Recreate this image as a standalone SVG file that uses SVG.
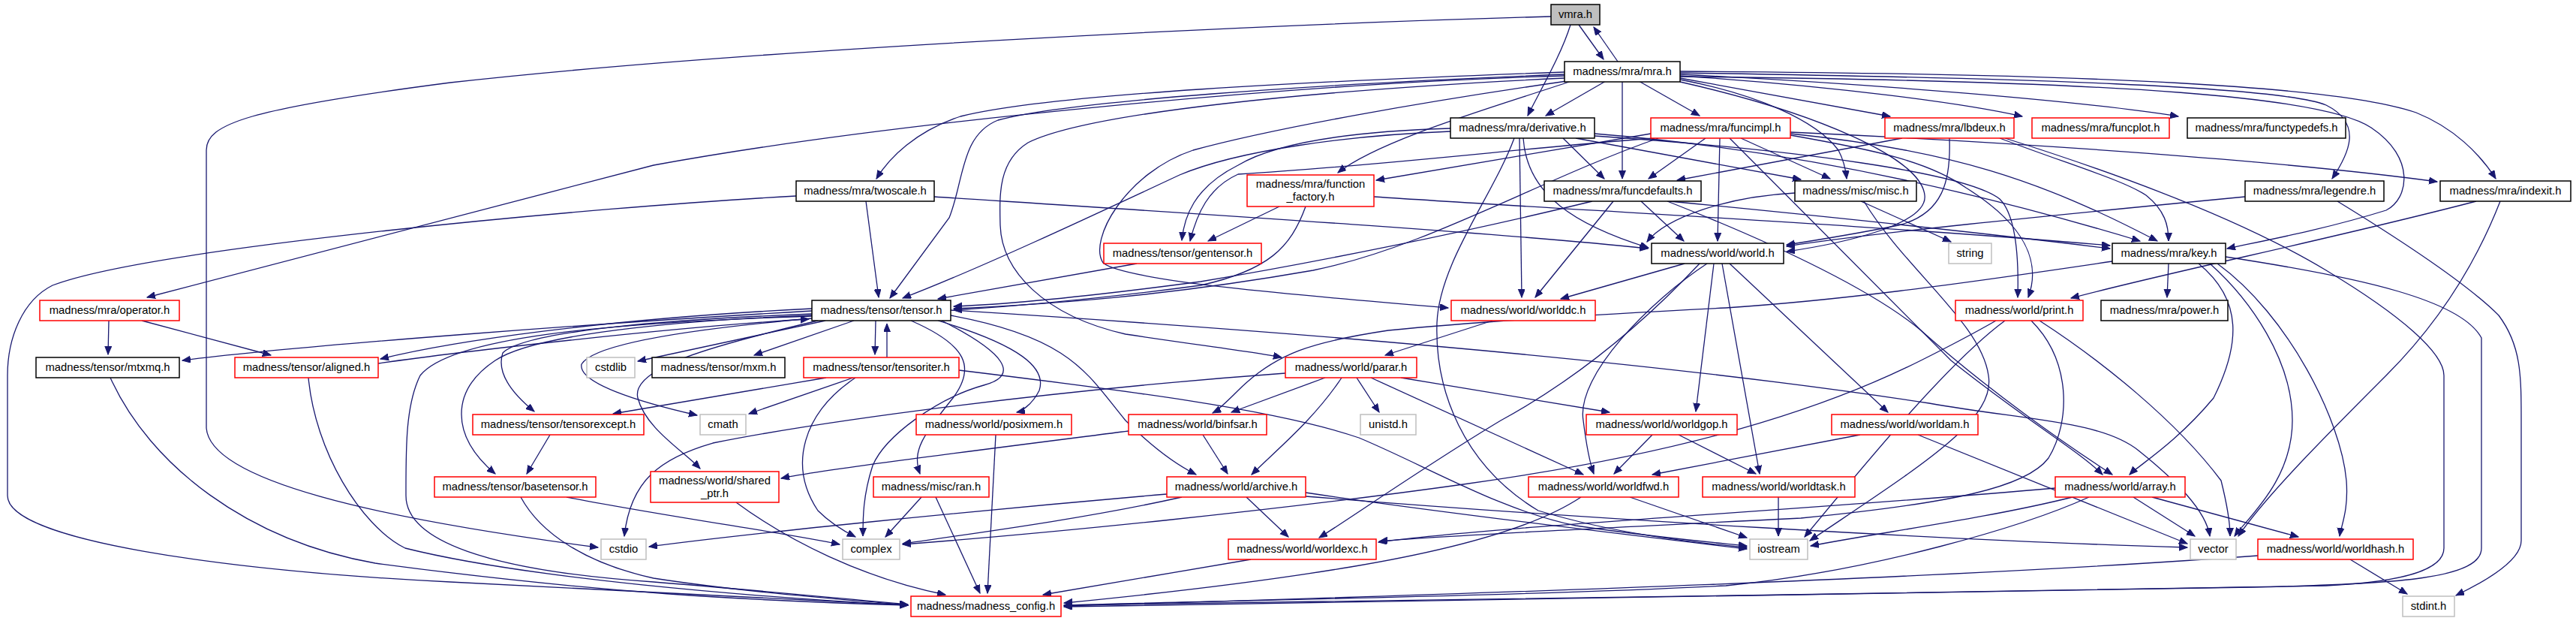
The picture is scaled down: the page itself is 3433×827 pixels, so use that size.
<svg xmlns="http://www.w3.org/2000/svg" width="3433" height="827" viewBox="0 0 3433 827">
<style>
.bg{fill:#fff}
rect{fill:#fff;stroke-width:1.5}
.n{stroke:#000}
.r{stroke:#ff0000}
.g{stroke:#bfbfbf}
.s{fill:#bfbfbf;stroke:#000}
text{font-family:"Liberation Sans",Arial,sans-serif;font-size:14.8px;fill:#000;text-anchor:middle}
#edges path{fill:none;stroke:#191970;stroke-width:1.3;marker-end:url(#ah)}
</style>
<defs>
<marker id="ah" markerUnits="userSpaceOnUse" markerWidth="12" markerHeight="10" refX="11" refY="4.5" orient="auto"><path d="M0,0 L11,4.5 L0,9 z" fill="#191970" stroke="#191970" stroke-width="1"/></marker>
</defs>
<rect class="bg" x="0" y="0" width="3433" height="827" style="stroke:none"/>
<g id="edges">
<path d="M2104,33 L2137,79"/>
<path d="M2156,82 L2124,36"/>
<path d="M2093,33 C2080,75 2050,125 2036,154"/>
<path d="M2067,22 C1700,32 1000,65 600,110 C330,145 275,165 275,200 L275,570 C280,640 500,690 797,729"/>
<path d="M2140,108 L2060,154"/>
<path d="M2162,108 L2162,238"/>
<path d="M2184,108 L2265,154"/>
<path d="M2239,106 C2340,125 2420,160 2450,200 C2458,215 2460,228 2461,238"/>
<path d="M2239,104 L2519,155"/>
<path d="M2239,101 C2450,115 2620,138 2695,155"/>
<path d="M2239,99 C2500,112 2780,135 2903,155"/>
<path d="M2239,97 C2700,104 3040,115 3100,140 C3150,165 3130,205 3108,238"/>
<path d="M2239,95 C2800,98 3120,115 3220,150 C3270,170 3305,205 3326,238"/>
<path d="M2239,102 C2850,108 3100,130 3160,170 C3220,210 3210,265 3180,280 C3100,305 3020,320 2968,331"/>
<path d="M2085,96 C1750,108 1400,125 1280,155 C1220,175 1185,210 1168,238"/>
<path d="M2085,99 C1750,112 1420,135 1330,160 C1280,180 1285,240 1265,290 L1186,397"/>
<path d="M2085,101 C1750,110 1200,160 871,220 L196,396"/>
<path d="M2094,108 C2000,140 1840,185 1783,230"/>
<path d="M2085,104 C1750,120 1450,150 1370,190 C1330,215 1332,260 1333,300 C1335,360 1390,420 1500,445 C1600,460 1680,470 1708,476"/>
<path d="M2088,108 C1900,135 1700,170 1590,200 C1500,230 1450,320 1470,350 C1500,375 1750,395 1930,410"/>
<path d="M2239,109 C2420,150 2560,210 2565,260 C2570,300 2450,325 2381,335"/>
<path d="M2598,184 C2600,240 2590,285 2530,300 C2470,312 2420,320 2381,326"/>
<path d="M2083,184 L2138,238"/>
<path d="M2100,184 L2400,239"/>
<path d="M2030,184 C2035,260 2100,300 2197,330"/>
<path d="M2025,184 L2028,396"/>
<path d="M2018,184 C1990,260 1918,350 1915,430 C1912,520 1950,620 2050,680 C2150,710 2250,722 2328,729"/>
<path d="M1933,175 C1800,180 1650,200 1572,233 C1450,290 1300,360 1203,397"/>
<path d="M1933,171 C1800,175 1700,190 1650,220 C1590,250 1578,290 1575,320"/>
<path d="M2125,178 C2400,200 2650,260 2852,321"/>
<path d="M2125,181 C2400,200 2620,230 2665,265 C2690,290 2690,360 2689,396"/>
<path d="M2200,178 L1834,240"/>
<path d="M2273,184 L2197,238"/>
<path d="M2320,184 L2439,238"/>
<path d="M2292,184 L2289,321"/>
<path d="M2386,176 C2700,190 3050,215 3248,242"/>
<path d="M2386,178 C2600,200 2720,240 2875,321"/>
<path d="M2386,180 C2500,200 2570,215 2620,250 C2700,300 2720,350 2703,396"/>
<path d="M2210,184 C2050,240 1900,330 1750,360 C1550,395 1400,405 1271,411"/>
<path d="M2205,184 C2050,195 1850,220 1650,232 C1610,250 1595,285 1586,321"/>
<path d="M2305,184 C2420,300 2520,400 2600,480 C2700,560 2770,600 2802,632"/>
<path d="M2535,184 L2235,240"/>
<path d="M2665,184 C2760,220 2830,240 2860,260 C2885,280 2890,300 2890,321"/>
<path d="M2672,184 C2850,240 3000,300 3100,360 C3200,420 3257,470 3257,500 L3257,730 C3257,760 3200,775 3100,780 C2600,790 1800,800 1418,806"/>
<path d="M1705,275 L1610,321"/>
<path d="M1740,275 C1720,330 1690,360 1600,380 C1450,400 1350,408 1271,413"/>
<path d="M1831,262 C2100,280 2500,300 2812,327"/>
<path d="M2187,268 L2244,321"/>
<path d="M2150,268 L2046,396"/>
<path d="M2122,268 C1950,310 1750,350 1600,375 C1450,395 1350,405 1271,408"/>
<path d="M2225,268 C2400,285 2600,305 2812,331"/>
<path d="M2222,268 C2380,330 2500,390 2560,440 C2650,520 2750,590 2815,632"/>
<path d="M2392,257 C2300,262 2220,290 2195,322"/>
<path d="M2480,268 L2600,322"/>
<path d="M2484,268 C2540,360 2640,430 2650,500 C2660,560 2560,620 2412,720"/>
<path d="M1154,268 L1171,396"/>
<path d="M1245,262 C1600,285 2000,310 2196,331"/>
<path d="M1061,261 C800,275 200,330 70,380 C30,400 10,450 10,500 L10,660 C10,720 300,760 600,775 C900,790 1100,800 1210,806"/>
<path d="M1515,351 L1250,398"/>
<path d="M2245,351 L2080,398"/>
<path d="M2284,351 L2260,548"/>
<path d="M2295,351 L2345,631"/>
<path d="M2305,351 L2516,549"/>
<path d="M2275,351 C2200,400 2100,500 2110,560 C2115,600 2120,620 2124,631"/>
<path d="M2265,351 C2200,420 2110,500 2000,560 C1900,620 1800,690 1758,716"/>
<path d="M2890,351 L2888,396"/>
<path d="M2930,351 C2990,400 2985,460 2950,530 C2900,590 2850,620 2838,632"/>
<path d="M2945,351 C3000,400 3055,480 3055,560 C3055,640 2995,690 2978,714"/>
<path d="M2955,351 C3050,420 3120,560 3127,640 C3130,680 3120,700 3118,714"/>
<path d="M2966,342 C3150,370 3280,400 3307,450 L3307,730 C3307,770 3200,778 3000,782 C2400,790 1800,800 1418,808"/>
<path d="M3115,268 C3200,320 3290,380 3330,420 C3360,460 3360,500 3360,560 L3360,720 C3360,750 3300,780 3273,793"/>
<path d="M2815,348 C2600,380 2450,400 2300,410 C2100,420 1950,430 1850,440 C1750,455 1700,470 1650,520 C1630,540 1620,548 1616,550"/>
<path d="M2992,262 C2700,290 2500,310 2381,328"/>
<path d="M3300,268 C3100,320 2900,360 2760,397"/>
<path d="M3332,268 C3300,350 3250,430 3180,500 C3100,580 3020,660 2983,714"/>
<path d="M1167,427 L1166,472"/>
<path d="M1182,476 L1182,431"/>
<path d="M1138,427 L1005,473"/>
<path d="M1100,427 L850,481"/>
<path d="M1082,424 C900,440 790,460 775,485 C770,510 850,535 929,553"/>
<path d="M1082,418 C900,425 700,440 670,470 C660,500 690,530 712,548"/>
<path d="M1082,420 C950,425 720,440 660,480 C600,520 600,580 660,631"/>
<path d="M1082,414 C800,430 400,460 243,480"/>
<path d="M1082,411 C800,425 600,455 507,478"/>
<path d="M504,484 C600,470 900,435 1078,425"/>
<path d="M1082,421 C800,430 600,450 560,500 C540,540 541,600 541,660 C541,720 650,760 871,775 C1000,785 1150,800 1210,805"/>
<path d="M1090,427 C950,460 840,490 850,530 C860,570 910,600 933,624"/>
<path d="M1250,427 C1360,460 1395,490 1385,520 C1375,540 1360,548 1355,549"/>
<path d="M1214,427 C1290,460 1300,490 1270,530 C1230,580 1215,600 1226,631"/>
<path d="M1255,427 C1340,470 1360,500 1311,513 C1250,530 1180,580 1163,620 C1150,660 1150,690 1150,714"/>
<path d="M1140,503 C1070,550 1050,620 1090,680 C1110,700 1130,710 1140,715"/>
<path d="M1267,420 C1430,450 1450,500 1500,560 C1540,600 1570,620 1594,632"/>
<path d="M1267,413 C1700,440 2200,480 2571,537 C2700,560 2800,560 2850,600 C2900,640 2940,680 2945,714"/>
<path d="M1137,503 L998,551"/>
<path d="M1101,503 L817,551"/>
<path d="M1278,493 C1500,520 1700,545 1811,583 C1900,620 2000,680 2100,700 C2200,715 2280,722 2328,727"/>
<path d="M733,579 L702,631"/>
<path d="M694,662 C720,710 780,750 871,770 C1000,790 1150,800 1210,806"/>
<path d="M755,662 C900,690 1050,710 1119,725"/>
<path d="M411,503 C420,600 480,700 540,730 C700,770 1000,795 1210,806"/>
<path d="M147,503 C200,620 330,720 500,750 C800,790 1000,800 1210,806"/>
<path d="M145,427 L144,472"/>
<path d="M189,427 L361,473"/>
<path d="M1228,662 L1180,715"/>
<path d="M1247,662 L1306,790"/>
<path d="M1327,579 L1316,790"/>
<path d="M981,669 C1050,720 1150,770 1260,792"/>
<path d="M1504,574 C1300,600 1100,625 1041,637"/>
<path d="M1603,579 L1636,631"/>
<path d="M1766,503 L1641,549"/>
<path d="M1788,503 C1750,560 1700,600 1668,632"/>
<path d="M1808,503 L1838,549"/>
<path d="M1827,503 L2110,632"/>
<path d="M1867,503 L2145,549"/>
<path d="M1713,497 C1400,520 1100,560 950,590 C880,610 840,640 832,714"/>
<path d="M1555,658 C1300,680 1000,710 865,728"/>
<path d="M1575,662 C1450,690 1300,710 1203,724"/>
<path d="M1661,662 L1717,715"/>
<path d="M1740,656 C1900,680 2150,710 2328,731"/>
<path d="M1740,661 C2100,690 2600,720 2915,729"/>
<path d="M1667,745 L1390,792"/>
<path d="M1989,427 L1846,473"/>
<path d="M2202,579 L2151,631"/>
<path d="M2237,579 L2340,631"/>
<path d="M2479,579 L2202,632"/>
<path d="M2556,579 L2915,724"/>
<path d="M2370,662 L2370,714"/>
<path d="M2172,662 L2328,716"/>
<path d="M2107,662 C2050,700 1950,730 1800,755 C1650,780 1500,795 1418,803"/>
<path d="M2843,662 L2925,714"/>
<path d="M2868,662 L3063,715"/>
<path d="M2762,662 C2650,690 2500,710 2413,727"/>
<path d="M2739,650 C2400,680 2000,700 1837,722"/>
<path d="M2784,662 C2700,700 2500,760 2300,780 C2000,795 1600,800 1418,806"/>
<path d="M3132,745 L3208,791"/>
<path d="M3009,740 C2600,770 2000,790 1418,807"/>
<path d="M2672,427 C2600,480 2500,600 2405,715"/>
<path d="M2718,427 C2800,480 2900,560 2960,640 C2970,680 2972,700 2972,714"/>
<path d="M2707,427 C2760,480 2760,560 2730,610 C2700,650 2600,670 2400,690 C2100,705 1900,715 1838,721"/>
<path d="M2660,427 C2620,450 2590,465 2560,480 C2400,560 2200,610 1950,645 C1700,680 1400,710 1203,725"/>
</g>
<g id="vmra"><rect class="s" x="2067" y="6" width="65" height="27"/><text x="2099.5" y="24">vmra.h</text></g>
<g id="mra"><rect class="n" x="2085" y="82" width="154" height="27"/><text x="2162" y="100">madness/mra/mra.h</text></g>
<g id="derivative"><rect class="n" x="1933" y="157" width="192" height="27"/><text x="2029" y="175">madness/mra/derivative.h</text></g>
<g id="funcimpl"><rect class="r" x="2200" y="157" width="186" height="27"/><text x="2293" y="175">madness/mra/funcimpl.h</text></g>
<g id="lbdeux"><rect class="r" x="2512" y="157" width="172" height="27"/><text x="2598" y="175">madness/mra/lbdeux.h</text></g>
<g id="funcplot"><rect class="r" x="2708" y="157" width="183" height="27"/><text x="2799.5" y="175">madness/mra/funcplot.h</text></g>
<g id="functypedefs"><rect class="n" x="2915" y="157" width="211" height="27"/><text x="3020.5" y="175">madness/mra/functypedefs.h</text></g>
<g id="function_factory"><rect class="r" x="1662" y="233" width="169" height="42"/><text x="1746.5" y="250">madness/mra/function</text><text x="1746.5" y="267">_factory.h</text></g>
<g id="funcdefaults"><rect class="n" x="2058" y="241" width="209" height="27"/><text x="2162.5" y="259">madness/mra/funcdefaults.h</text></g>
<g id="misc"><rect class="n" x="2392" y="241" width="162" height="27"/><text x="2473" y="259">madness/misc/misc.h</text></g>
<g id="twoscale"><rect class="n" x="1061" y="241" width="184" height="27"/><text x="1153" y="259">madness/mra/twoscale.h</text></g>
<g id="legendre"><rect class="n" x="2992" y="241" width="185" height="27"/><text x="3084.5" y="259">madness/mra/legendre.h</text></g>
<g id="indexit"><rect class="n" x="3252" y="241" width="174" height="27"/><text x="3339" y="259">madness/mra/indexit.h</text></g>
<g id="gentensor"><rect class="r" x="1471" y="324" width="210" height="27"/><text x="1576" y="342">madness/tensor/gentensor.h</text></g>
<g id="world"><rect class="n" x="2201" y="324" width="176" height="27"/><text x="2289" y="342">madness/world/world.h</text></g>
<g id="string"><rect class="g" x="2597" y="324" width="57" height="27"/><text x="2625.5" y="342">string</text></g>
<g id="key"><rect class="n" x="2815" y="324" width="151" height="27"/><text x="2890.5" y="342">madness/mra/key.h</text></g>
<g id="tensor"><rect class="n" x="1082" y="400" width="185" height="27"/><text x="1174.5" y="418">madness/tensor/tensor.h</text></g>
<g id="worlddc"><rect class="r" x="1934" y="400" width="192" height="27"/><text x="2030" y="418">madness/world/worlddc.h</text></g>
<g id="print"><rect class="r" x="2606" y="400" width="170" height="27"/><text x="2691" y="418">madness/world/print.h</text></g>
<g id="power"><rect class="n" x="2800" y="400" width="169" height="27"/><text x="2884.5" y="418">madness/mra/power.h</text></g>
<g id="operator"><rect class="r" x="53" y="400" width="186" height="27"/><text x="146" y="418">madness/mra/operator.h</text></g>
<g id="mtxmq"><rect class="n" x="48" y="476" width="191" height="27"/><text x="143.5" y="494">madness/tensor/mtxmq.h</text></g>
<g id="aligned"><rect class="r" x="313" y="476" width="191" height="27"/><text x="408.5" y="494">madness/tensor/aligned.h</text></g>
<g id="cstdlib"><rect class="g" x="782" y="476" width="64" height="27"/><text x="814" y="494">cstdlib</text></g>
<g id="mxm"><rect class="n" x="869" y="476" width="177" height="27"/><text x="957.5" y="494">madness/tensor/mxm.h</text></g>
<g id="tensoriter"><rect class="r" x="1071" y="476" width="207" height="27"/><text x="1174.5" y="494">madness/tensor/tensoriter.h</text></g>
<g id="parar"><rect class="r" x="1713" y="476" width="175" height="27"/><text x="1800.5" y="494">madness/world/parar.h</text></g>
<g id="tensorexcept"><rect class="r" x="630" y="552" width="228" height="27"/><text x="744" y="570">madness/tensor/tensorexcept.h</text></g>
<g id="cmath"><rect class="g" x="933" y="552" width="61" height="27"/><text x="963.5" y="570">cmath</text></g>
<g id="posixmem"><rect class="r" x="1221" y="552" width="207" height="27"/><text x="1324.5" y="570">madness/world/posixmem.h</text></g>
<g id="binfsar"><rect class="r" x="1504" y="552" width="184" height="27"/><text x="1596" y="570">madness/world/binfsar.h</text></g>
<g id="unistd"><rect class="g" x="1813" y="552" width="74" height="27"/><text x="1850" y="570">unistd.h</text></g>
<g id="worldgop"><rect class="r" x="2114" y="552" width="201" height="27"/><text x="2214.5" y="570">madness/world/worldgop.h</text></g>
<g id="worldam"><rect class="r" x="2441" y="552" width="195" height="27"/><text x="2538.5" y="570">madness/world/worldam.h</text></g>
<g id="basetensor"><rect class="r" x="579" y="635" width="215" height="27"/><text x="686.5" y="653">madness/tensor/basetensor.h</text></g>
<g id="shared_ptr"><rect class="r" x="867" y="628" width="171" height="41"/><text x="952.5" y="645">madness/world/shared</text><text x="952.5" y="662">_ptr.h</text></g>
<g id="ran"><rect class="r" x="1164" y="635" width="154" height="27"/><text x="1241" y="653">madness/misc/ran.h</text></g>
<g id="archive"><rect class="r" x="1555" y="635" width="185" height="27"/><text x="1647.5" y="653">madness/world/archive.h</text></g>
<g id="worldfwd"><rect class="r" x="2037" y="635" width="200" height="27"/><text x="2137" y="653">madness/world/worldfwd.h</text></g>
<g id="worldtask"><rect class="r" x="2269" y="635" width="203" height="27"/><text x="2370.5" y="653">madness/world/worldtask.h</text></g>
<g id="array"><rect class="r" x="2739" y="635" width="173" height="27"/><text x="2825.5" y="653">madness/world/array.h</text></g>
<g id="cstdio"><rect class="g" x="801" y="718" width="60" height="27"/><text x="831" y="736">cstdio</text></g>
<g id="complex"><rect class="g" x="1123" y="718" width="76" height="27"/><text x="1161" y="736">complex</text></g>
<g id="worldexc"><rect class="r" x="1637" y="718" width="197" height="27"/><text x="1735.5" y="736">madness/world/worldexc.h</text></g>
<g id="iostream"><rect class="g" x="2332" y="718" width="77" height="27"/><text x="2370.5" y="736">iostream</text></g>
<g id="vector"><rect class="g" x="2919" y="718" width="61" height="27"/><text x="2949.5" y="736">vector</text></g>
<g id="worldhash"><rect class="r" x="3009" y="718" width="207" height="27"/><text x="3112.5" y="736">madness/world/worldhash.h</text></g>
<g id="madness_config"><rect class="r" x="1214" y="794" width="200" height="27"/><text x="1314" y="812">madness/madness_config.h</text></g>
<g id="stdint"><rect class="g" x="3202" y="794" width="69" height="27"/><text x="3236.5" y="812">stdint.h</text></g>
</svg>
